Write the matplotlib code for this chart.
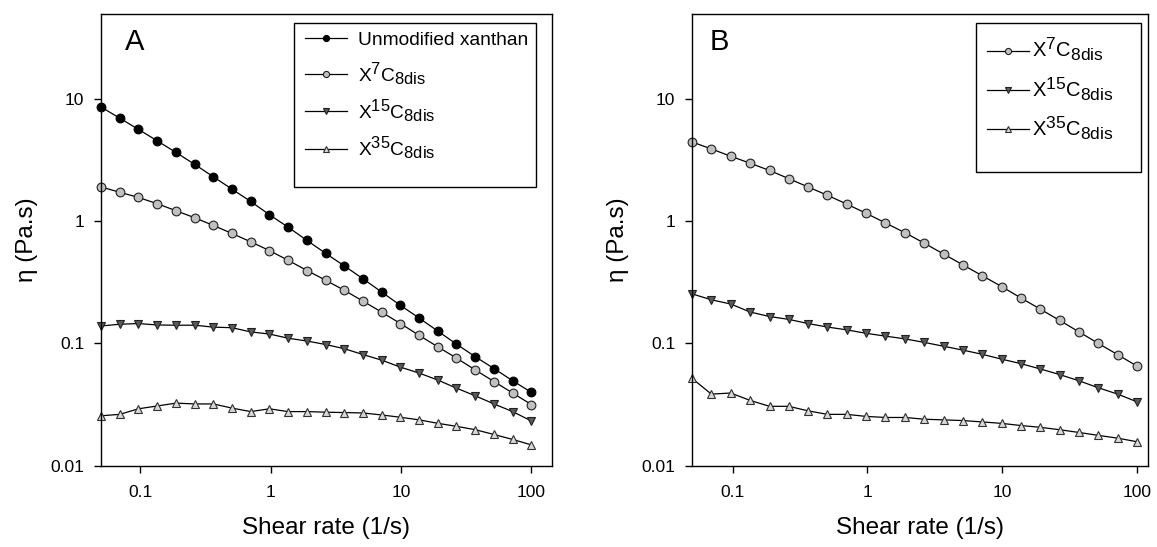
import matplotlib
matplotlib.use("Agg")
import matplotlib.pyplot as plt
import matplotlib._mathtext as _mt
from matplotlib.patches import Rectangle
from matplotlib.ticker import FixedLocator, NullLocator, FixedFormatter

plt.rcParams['font.family'] = ['Liberation Sans', 'DejaVu Sans']
plt.rcParams['mathtext.default'] = 'regular'
plt.rcParams['mathtext.fontset'] = 'custom'
plt.rcParams['mathtext.rm'] = 'Liberation Sans'
plt.rcParams['mathtext.it'] = 'Liberation Sans'
_mt.SHRINK_FACTOR = 0.86  # larger sub/superscripts as in the reference

# ---------------- data ----------------
shear_rate = [0.05, 0.0696, 0.0968, 0.135, 0.188, 0.261, 0.363, 0.505, 0.703, 0.979,
              1.36, 1.90, 2.64, 3.67, 5.11, 7.11, 9.89, 13.8, 19.2, 26.6,
              37.1, 51.6, 71.8, 100]

a_unmodified = [8.6, 6.96, 5.64, 4.54, 3.65, 2.92, 2.31, 1.83, 1.45, 1.13,
                0.894, 0.696, 0.546, 0.431, 0.338, 0.263, 0.205, 0.161, 0.126, 0.0987,
                0.0779, 0.0623, 0.0495, 0.0398]
a_x7 = [1.905, 1.726, 1.564, 1.39, 1.218, 1.068, 0.924, 0.794, 0.678, 0.575,
        0.479, 0.395, 0.329, 0.272, 0.222, 0.180, 0.1455, 0.1163, 0.0936, 0.0759,
        0.0607, 0.0488, 0.0393, 0.0316]
a_x15 = [0.139, 0.1436, 0.1455, 0.1416, 0.141, 0.141, 0.136, 0.1345, 0.1243, 0.1194,
         0.1104, 0.1047, 0.098, 0.0906, 0.0811, 0.073, 0.064, 0.0572, 0.0501, 0.0431,
         0.0373, 0.032, 0.0277, 0.0232]
a_x35 = [0.0256, 0.0263, 0.0292, 0.0308, 0.0325, 0.032, 0.032, 0.0296, 0.0277, 0.0292,
         0.0277, 0.0277, 0.0274, 0.0272, 0.027, 0.026, 0.0249, 0.0237, 0.0222, 0.021,
         0.0197, 0.018, 0.0164, 0.0148]

b_x7 = [4.45, 3.90, 3.40, 2.98, 2.60, 2.23, 1.905, 1.63, 1.38, 1.16,
        0.968, 0.805, 0.661, 0.539, 0.439, 0.358, 0.292, 0.235, 0.1905, 0.1545,
        0.1243, 0.1, 0.081, 0.0652]
b_x15 = [0.2545, 0.2276, 0.2102, 0.1807, 0.166, 0.1574, 0.1455, 0.1362, 0.1292, 0.121,
         0.1148, 0.109, 0.102, 0.0949, 0.0882, 0.0815, 0.0744, 0.0683, 0.0618, 0.0557,
         0.0495, 0.0434, 0.0385, 0.0333]
b_x35 = [0.0518, 0.0385, 0.0393, 0.0342, 0.0306, 0.0306, 0.0281, 0.0263, 0.0263, 0.0253,
         0.0248, 0.0248, 0.024, 0.0237, 0.0234, 0.0228, 0.0222, 0.0213, 0.0206, 0.0197,
         0.0187, 0.0177, 0.0168, 0.0157]

x_ticks = [0.1, 1, 10, 100]
x_ticklabels = ["0.1", "1", "10", "100"]
y_ticks = [0.01, 0.1, 1, 10]
y_ticklabels = ["0.01", "0.1", "1", "10"]

lab_unmod = "Unmodified xanthan"
lab_x7 = r"X$^{7}$C$_{8dis}$"
lab_x15 = r"X$^{15}$C$_{8dis}$"
lab_x35 = r"X$^{35}$C$_{8dis}$"

# ---------------- styles ----------------
st_unmod = dict(marker='o', mfc='black', mec='black')
st_x7 = dict(marker='o', mfc='#c0c0c0', mec='#202020')
st_x15 = dict(marker='v', mfc='#5a5a5a', mec='#202020')
st_x35 = dict(marker='^', mfc='#d8d8d8', mec='#303030')

W, H = 1157, 547
fig = plt.figure(figsize=(W / 100, H / 100), dpi=100)

axA = fig.add_axes([101 / W, (H - 465.7) / H, 450.7 / W, 452.2 / H])
axB = fig.add_axes([692 / W, (H - 465.7) / H, 456 / W, 452.2 / H])


def style_axis(ax, xmax):
    ax.set_xscale('log')
    ax.set_yscale('log')
    ax.set_xlim(0.05, xmax)
    ax.set_ylim(0.01, 50)
    ax.xaxis.set_major_locator(FixedLocator(x_ticks))
    ax.xaxis.set_major_formatter(FixedFormatter(x_ticklabels))
    ax.yaxis.set_major_locator(FixedLocator(y_ticks))
    ax.yaxis.set_major_formatter(FixedFormatter(y_ticklabels))
    ax.xaxis.set_minor_locator(NullLocator())
    ax.yaxis.set_minor_locator(NullLocator())
    ax.tick_params(axis='both', which='major', direction='out', length=5, width=1,
                   labelsize=12.5, top=False, right=False)
    ax.tick_params(axis='x', pad=9)
    ax.tick_params(axis='y', pad=7)
    for s in ax.spines.values():
        s.set_linewidth(1.0)
        s.set_color('black')
    ax.set_xlabel("Shear rate (1/s)", fontsize=17.5, labelpad=12)
    ax.set_ylabel("η (Pa.s)", fontsize=17.5, labelpad=9)


def plot_series(ax, y, style, label):
    ax.plot(shear_rate, y, color='black', lw=0.9, ms=6.3, mew=0.8, label=label,
            clip_on=False, **style)


def legend_box(ax, x0, x1, y0, y1):
    ax.add_patch(Rectangle((x0, y0), x1 - x0, y1 - y0, transform=ax.transAxes,
                           fill=True, facecolor='white', edgecolor='black',
                           lw=1.0, zorder=4, clip_on=False))


style_axis(axA, 143)
plot_series(axA, a_unmodified, st_unmod, lab_unmod)
plot_series(axA, a_x7, st_x7, lab_x7)
plot_series(axA, a_x15, st_x15, lab_x15)
plot_series(axA, a_x35, st_x35, lab_x35)
axA.text(0.075, 0.937, "A", transform=axA.transAxes, fontsize=21,
         ha='center', va='center')

style_axis(axB, 120.5)
plot_series(axB, b_x7, st_x7, lab_x7)
plot_series(axB, b_x15, st_x15, lab_x15)
plot_series(axB, b_x35, st_x35, lab_x35)
axB.text(0.059, 0.937, "B", transform=axB.transAxes, fontsize=21,
         ha='center', va='center')

legkw = dict(frameon=False, markerscale=0.7, borderpad=0.0, borderaxespad=0.0,
             loc='center left')

legend_box(axA, 0.4282, 0.9652, 0.617, 0.9797)
legA = axA.legend(bbox_to_anchor=(0.4526, 0.8165), fontsize=13.8,
                  handlelength=2.2, handletextpad=0.55, labelspacing=0.55, **legkw)
legA.set_zorder(5)

legend_box(axB, 0.6228, 0.9846, 0.6495, 0.9797)
legB = axB.legend(bbox_to_anchor=(0.647, 0.833), fontsize=14.5,
                  handlelength=2.1, handletextpad=0.15, labelspacing=0.6, **legkw)
legB.set_zorder(5)

fig.savefig("out.png", dpi=100)
